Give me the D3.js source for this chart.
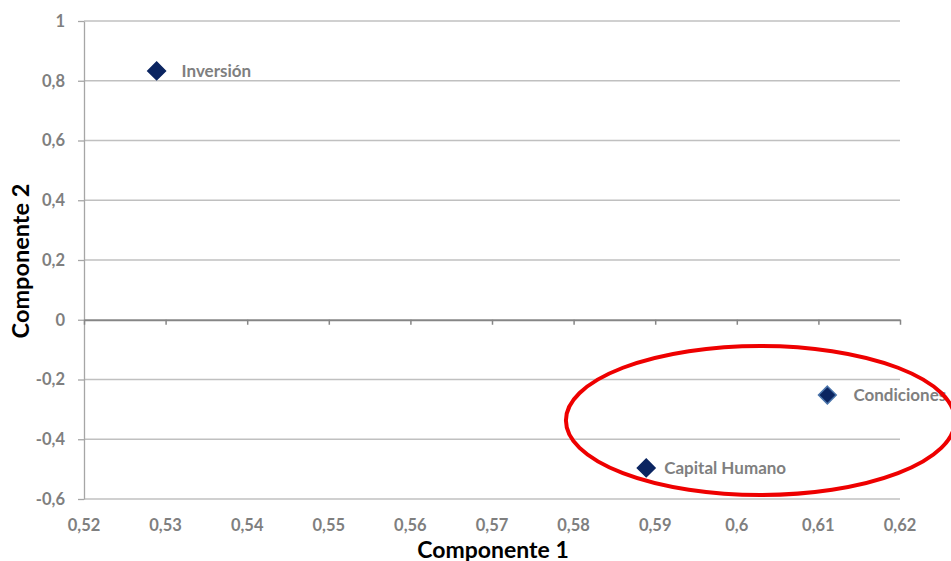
<!DOCTYPE html>
<html><head><meta charset="utf-8">
<script src="https://cdn.jsdelivr.net/npm/d3@7"></script>
<style>body{margin:0;background:#fff}svg{display:block}</style>
</head><body>
<script>
const names = ["Inversión", "Condiciones", "Capital Humano"];
const comp1 = [0.5289, 0.6111, 0.5889];
const comp2 = [0.833, -0.252, -0.496];
const xTicks = [0.52,0.53,0.54,0.55,0.56,0.57,0.58,0.59,0.6,0.61,0.62];
const yTicks = [-0.6,-0.4,-0.2,0,0.2,0.4,0.6,0.8,1];
const highlight = {cx: 0.6029, cy: -0.337, rx: 0.02384, ry: 0.2494};

const W = 951, H = 561;
const svg = d3.select("body").append("svg").attr("width", W).attr("height", H);
const x = d3.scaleLinear().domain([0.52, 0.62]).range([84, 900]);
const y = d3.scaleLinear().domain([-0.6, 1]).range([499, 21]);
const fmt = d => String(+d.toFixed(2)).replace(".", ",");
const font = "Lato, 'Open Sans', sans-serif";
const labelDx = {"Inversión": 25, "Condiciones": 26, "Capital Humano": 18};

// gridlines
svg.append("g").selectAll("line").data(yTicks.filter(d => d !== 0)).join("line")
  .attr("x1", 84).attr("x2", 900).attr("y1", d => y(d)).attr("y2", d => y(d))
  .attr("stroke", "#c0c0c0").attr("stroke-width", 1.3);

// y axis
const ya = svg.append("g").attr("transform", "translate(84,0)")
  .call(d3.axisLeft(y).tickValues(yTicks).tickFormat(fmt).tickSize(6).tickSizeOuter(0).tickPadding(13));
ya.select(".domain").attr("stroke", "#a6a6a6").attr("stroke-width", 1.3);
ya.selectAll(".tick line").attr("stroke", "#a6a6a6").attr("stroke-width", 1.3);
ya.selectAll("text").attr("font-family", font).attr("font-weight", "bold")
  .attr("font-size", 16.5).attr("fill", "#7f7f7f");

// x axis at y=0
const xa = svg.append("g").attr("transform", `translate(0,${y(0)})`)
  .call(d3.axisBottom(x).tickValues(xTicks).tickFormat("").tickSize(5).tickSizeOuter(0));
xa.select(".domain").attr("stroke", "#868686").attr("stroke-width", 2);
xa.selectAll(".tick line").attr("stroke", "#868686").attr("stroke-width", 1.5);

// x tick labels at bottom
svg.append("g").selectAll("text").data(xTicks).join("text")
  .attr("x", d => x(d)).attr("y", 531).attr("text-anchor", "middle")
  .attr("font-family", font).attr("font-weight", "bold").attr("font-size", 16.5)
  .attr("fill", "#7f7f7f").text(fmt);

// axis titles
svg.append("text").attr("x", 493).attr("y", 557.5).attr("text-anchor", "middle")
  .attr("font-family", font).attr("font-weight", "bold").attr("font-size", 23)
  .attr("fill", "#000").text("Componente 1");
svg.append("text").attr("transform", "translate(29,261) rotate(-90)").attr("text-anchor", "middle")
  .attr("font-family", font).attr("font-weight", "bold").attr("font-size", 23.5)
  .attr("fill", "#000").text("Componente 2");

// points
const data = names.map((n, i) => ({n, x: comp1[i], y: comp2[i]}));
const sym = d3.symbol().type(d3.symbolDiamond2).size(200);
svg.append("g").selectAll("path").data(data).join("path")
  .attr("d", sym)
  .attr("transform", d => `translate(${x(d.x)},${y(d.y)})`)
  .attr("fill", "#0b2561")
  .attr("stroke", d => d.n === "Condiciones" ? "#4a74aa" : "#0b2561")
  .attr("stroke-width", 1.5);
svg.append("g").selectAll("text").data(data).join("text")
  .attr("x", d => x(d.x) + labelDx[d.n]).attr("y", d => y(d.y) + 6)
  .attr("font-family", font).attr("font-weight", "bold").attr("font-size", 17)
  .attr("fill", "#7f7f7f").text(d => d.n);

// highlight ellipse
svg.append("ellipse")
  .attr("cx", x(highlight.cx)).attr("cy", y(highlight.cy))
  .attr("rx", x(highlight.cx + highlight.rx) - x(highlight.cx))
  .attr("ry", y(highlight.cy) - y(highlight.cy + highlight.ry))
  .attr("fill", "none").attr("stroke", "#ee0000").attr("stroke-width", 4);
</script>
</body></html>
